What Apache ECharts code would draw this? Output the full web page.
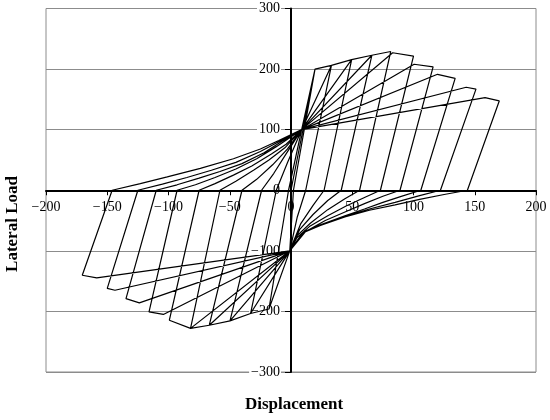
<!DOCTYPE html>
<html>
<head>
<meta charset="utf-8">
<script src="https://cdn.jsdelivr.net/npm/echarts@6/dist/echarts.min.js"></script>
<style>html,body{margin:0;padding:0;background:#fff}#c{width:550px;height:420px}</style>
</head>
<body>
<div id="c"></div>
<script>
// ---- Data (displacement, lateral load) ----
const xTicks = [-200, -150, -100, -50, 0, 50, 100, 150, 200];
const yTicks = [-300, -200, -100, 0, 100, 200, 300];

// positive peaks of each cycle (unloading starts here)
const posPeakDisp = [19.6, 33, 49.5, 66, 81.4, 100, 116, 134, 151, 170];
const posPeakLoad = [200, 206, 215.6, 222.8, 229, 221.5, 203.5, 184.6, 167, 147.4];
// point where reloading reaches the envelope (cycles 2..10)
const posTurnDisp = [null, 19.6, 33, 49.5, 66, 83, 100.5, 119.6, 143, 158.4];
const posTurnLoad = [null, 200, 206, 215.6, 222.8, 227, 208, 191.4, 170, 153];
// residual displacement after unloading from the positive peak
const posResid = [2, 12, 27, 41, 56, 73, 89, 106, 122, 144];

const negPeakDisp = [-18, -33, -49.8, -66.7, -82, -99.3, -115.9, -134.7, -150, -170.4];
const negPeakLoad = [-196, -203.5, -215.6, -222.8, -228, -214.5, -200.8, -179, -162, -140.3];
const negTurnDisp = [null, -18, -33, -49.8, -66.7, -82, -104.2, -123.8, -143.7, -158.6];
const negTurnLoad = [null, -196, -203.5, -215.6, -222.8, -228, -205, -186, -165, -144.7];
const negResid = [-2, -12, -24, -40, -58, -75, -93, -110, -125, -146];

// pinching points
const pinchPos = [8.7, 100];
const pinchNeg = [-1, -100];

// reloading curves towards negative side (after positive peak k)
const negReload = [
  [],
  [[5, -45]],
  [[18, -25], [8, -55]],
  [[30, -17], [18, -40], [7, -65]],
  [[44, -14], [30, -32], [16, -54], [5, -75]],
  [[60, -12], [45, -26], [30, -42], [15, -60], [5, -78]],
  [[75, -10], [60, -22], [45, -35], [28, -50], [12, -68]],
  [[90, -10], [75, -20], [60, -31], [44, -42], [24, -57], [10, -69]],
  [[105, -9], [85, -20], [64, -31], [44, -43], [24, -57], [10, -70]],
  [[125, -7], [105, -15], [85, -24], [64, -33], [44, -44], [24, -58], [10, -70]]
];
// reloading curves towards positive side (after negative peak k)
const posReload = [
  [],
  [[-3, 45]],
  [[-14, 28], [-4, 60]],
  [[-28, 18], [-15, 42], [-3, 68]],
  [[-45, 15], [-30, 34], [-18, 50], [-5, 70]],
  [[-62, 11], [-47, 25], [-32, 40], [-16, 60], [-4, 76]],
  [[-78, 9], [-62, 21], [-45, 35], [-28, 52], [-12, 72]],
  [[-93, 9], [-75, 20], [-58, 31], [-40, 44], [-22, 62], [-8, 80]],
  [[-105, 10], [-85, 21], [-65, 33], [-45, 46], [-25, 64], [-10, 80]],
  [[-123, 11], [-101, 22], [-74, 36], [-47, 52], [-25, 68], [-10, 82]]
];

// ---- Build the hysteresis path in loading order ----
const path = [[0, 0], [posPeakDisp[0], posPeakLoad[0]]];
for (let k = 0; k < posPeakDisp.length; k++) {
  if (k > 0) {
    posReload[k - 1].forEach(p => path.push(p));
    path.push(pinchPos);
    path.push([posTurnDisp[k], posTurnLoad[k]]);
    path.push([posPeakDisp[k], posPeakLoad[k]]);
  }
  path.push([posResid[k], 0]);
  negReload[k].forEach(p => path.push(p));
  path.push(pinchNeg);
  if (k > 0) path.push([negTurnDisp[k], negTurnLoad[k]]);
  path.push([negPeakDisp[k], negPeakLoad[k]]);
  path.push([negResid[k], 0]);
}
posReload[posReload.length - 1].forEach(p => path.push(p));
path.push(pinchPos);

const fmt = v => String(v).replace('-', '\u2212');
const labelFont = {fontFamily: 'Liberation Serif', fontSize: 14, color: '#000'};

// plot area geometry
const G = {left: 46, right: 14, top: 8.5, bottom: 48, width: 550, height: 420};
const plotW = G.width - G.left - G.right;
const plotH = G.height - G.top - G.bottom;
const xMin = xTicks[0], xMax = xTicks[xTicks.length - 1];
const yMin = yTicks[0], yMax = yTicks[yTicks.length - 1];
// axes drawn through zero: offset from the grid edge towards the zero line
const xZeroOffset = -plotH * (0 - yMin) / (yMax - yMin);
const yZeroOffset = -plotW * (0 - xMin) / (xMax - xMin);

const chart = echarts.init(document.getElementById('c'), null, {renderer: 'canvas'});
chart.setOption({
  animation: false,
  backgroundColor: '#fff',
  grid: {left: G.left, right: G.right, top: G.top, bottom: G.bottom, show: true, borderColor: '#8c8c8c', borderWidth: 1},
  xAxis: {
    type: 'value', min: xMin, max: xMax, interval: 50, position: 'bottom', offset: xZeroOffset, z: 4,
    axisLine: {onZero: false, lineStyle: {color: '#000', width: 2}},
    axisTick: {show: true, length: 5, lineStyle: {color: '#000', width: 1}},
    axisLabel: Object.assign({margin: 10, formatter: fmt, showMinLabel: true, showMaxLabel: true}, labelFont),
    splitLine: {show: false}
  },
  yAxis: [{
    type: 'value', min: yMin, max: yMax, interval: 100, position: 'left', z: 0,
    axisLine: {show: false, onZero: false},
    axisTick: {show: false},
    axisLabel: {show: false},
    splitLine: {show: true, lineStyle: {color: '#8c8c8c', width: 1}}
  }, {
    type: 'value', min: yMin, max: yMax, interval: 100, position: 'left', offset: yZeroOffset, z: 1,
    axisLine: {show: true, onZero: false, lineStyle: {color: '#000', width: 2}},
    axisTick: {show: true, length: 6, lineStyle: {color: '#000', width: 1}},
    axisLabel: Object.assign({margin: 10, formatter: fmt, backgroundColor: '#fff', padding: [0, 1, 0, 2],
      showMinLabel: true, showMaxLabel: true}, labelFont),
    splitLine: {show: false}
  }],
  graphic: [
    {type: 'text', x: 4, y: 224, rotation: Math.PI / 2, style: {text: 'Lateral Load',
      font: 'bold 17px "Liberation Serif"', fill: '#000', align: 'center', verticalAlign: 'top'}},
    {type: 'text', x: 294, y: 396, style: {text: 'Displacement', font: 'bold 17px "Liberation Serif"',
      fill: '#000', align: 'center', verticalAlign: 'top'}}
  ],
  series: [{
    type: 'line', data: path, showSymbol: false, symbol: 'none', z: 5,
    lineStyle: {color: '#000', width: 1.2}, clip: false
  }]
});
</script>
</body>
</html>
